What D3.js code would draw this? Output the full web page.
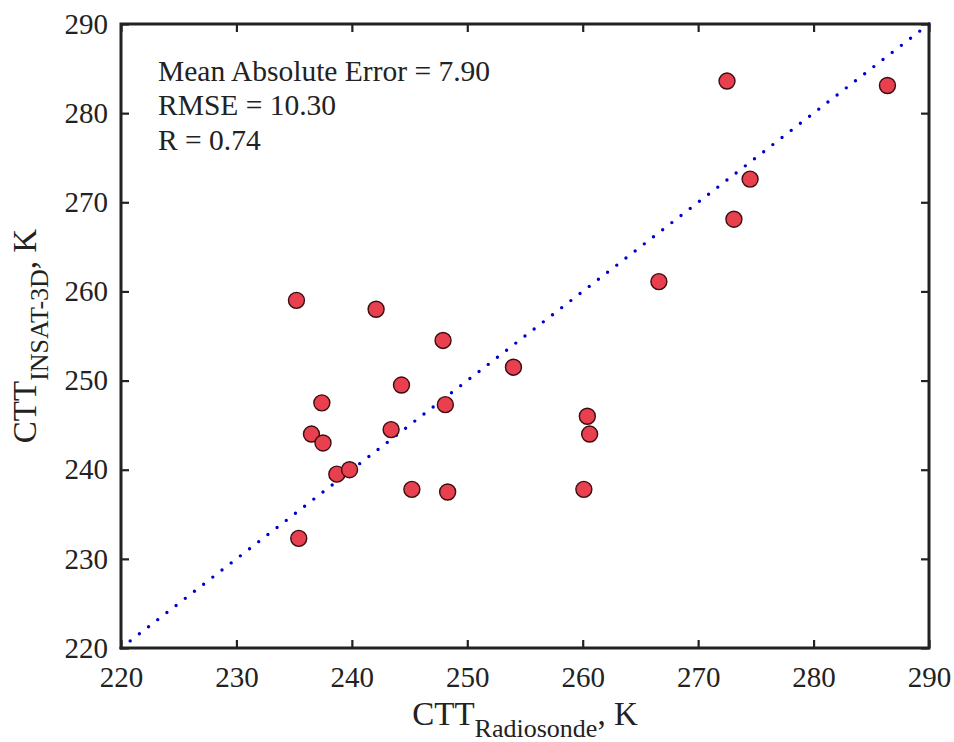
<!DOCTYPE html>
<html>
<head>
<meta charset="utf-8">
<script src="https://cdn.jsdelivr.net/npm/d3@7"></script>
<style>
  body { margin: 0; background: #fff; }
  svg text { font-family: "Liberation Serif", "Times New Roman", serif; fill: #222; }
</style>
</head>
<body>
<script>
// CTT values (K)
const radiosonde = [235.2, 242.1, 247.9, 254.0, 244.3, 237.4, 248.1, 236.5, 243.4, 237.5,
                    238.7, 239.8, 245.2, 248.3, 235.4, 260.4, 260.6, 260.1, 266.6, 273.1,
                    274.5, 272.5, 286.4];
const insat3d    = [259.0, 258.0, 254.5, 251.5, 249.5, 247.5, 247.3, 244.0, 244.5, 243.0,
                    239.5, 240.0, 237.8, 237.5, 232.3, 246.0, 244.0, 237.8, 261.1, 268.1,
                    272.6, 283.6, 283.1];
const ticks = [220, 230, 240, 250, 260, 270, 280, 290];
const stats = ["Mean Absolute Error = 7.90", "RMSE = 10.30", "R = 0.74"];

const W = 954, H = 742;
const margin = {top: 24, right: 25, bottom: 94, left: 121};
const width = W - margin.left - margin.right;
const height = H - margin.top - margin.bottom;

const x = d3.scaleLinear().domain([220, 290]).range([0, width]);
const y = d3.scaleLinear().domain([220, 290]).range([height, 0]);

const svg = d3.select("body").append("svg")
    .attr("width", W)
    .attr("height", H);

const g = svg.append("g")
    .attr("transform", `translate(${margin.left},${margin.top})`);

// 1:1 line, dotted
g.append("line")
    .attr("x1", x(220)).attr("y1", y(220))
    .attr("x2", x(290)).attr("y2", y(290))
    .attr("stroke", "#0000d0")
    .attr("stroke-width", 3.4)
    .attr("stroke-linecap", "round")
    .attr("stroke-dasharray", "0 11.6");

// points
const data = radiosonde.map((v, i) => ({r: v, s: insat3d[i]}));
g.selectAll("circle.pt")
    .data(data)
    .join("circle")
    .attr("class", "pt")
    .attr("cx", d => x(d.r))
    .attr("cy", d => y(d.s))
    .attr("r", 8)
    .attr("fill", "#e8404f")
    .attr("stroke", "#3b0c10")
    .attr("stroke-width", 1.4);

// axes, ticks inward, on all four sides
const tickLen = 8;
const axB = g.append("g").attr("transform", `translate(0,${height})`)
    .call(d3.axisBottom(x).tickValues(ticks).tickSizeInner(-tickLen).tickSizeOuter(0).tickPadding(18));
const axL = g.append("g")
    .call(d3.axisLeft(y).tickValues(ticks).tickSizeInner(-tickLen).tickSizeOuter(0).tickPadding(13));
const axT = g.append("g")
    .call(d3.axisTop(x).tickValues(ticks).tickSizeInner(-tickLen).tickSizeOuter(0).tickFormat(""));
const axR = g.append("g").attr("transform", `translate(${width},0)`)
    .call(d3.axisRight(y).tickValues(ticks).tickSizeInner(-tickLen).tickSizeOuter(0).tickFormat(""));

[axB, axL, axT, axR].forEach(a => {
    a.select(".domain").remove();
    a.selectAll(".tick line").attr("stroke", "#222").attr("stroke-width", 2.2);
    a.selectAll(".tick text")
        .attr("font-size", 29)
        .attr("fill", "#222")
        .style("font-family", "Liberation Serif, serif");
});

// box
g.append("rect")
    .attr("width", width).attr("height", height)
    .attr("fill", "none")
    .attr("stroke", "#222")
    .attr("stroke-width", 3);

// stats text
g.append("g").selectAll("text")
    .data(stats)
    .join("text")
    .attr("x", 37)
    .attr("y", (d, i) => 57 + i * 34.3)
    .attr("font-size", 29.5)
    .text(d => d);

// x label
const xl = svg.append("text")
    .attr("x", margin.left + width / 2)
    .attr("y", 725)
    .attr("text-anchor", "middle")
    .attr("font-size", 33);
xl.append("tspan").text("CTT");
xl.append("tspan").attr("font-size", 26).attr("dy", 12).text("Radiosonde");
xl.append("tspan").attr("dy", -12).text(", K");

// y label
const yl = svg.append("text")
    .attr("transform", `translate(36,${margin.top + height / 2}) rotate(-90)`)
    .attr("text-anchor", "middle")
    .attr("font-size", 33);
yl.append("tspan").text("CTT");
yl.append("tspan").attr("font-size", 26).attr("dy", 12).text("INSAT-3D");
yl.append("tspan").attr("dy", -12).text(", K");
</script>
</body>
</html>
